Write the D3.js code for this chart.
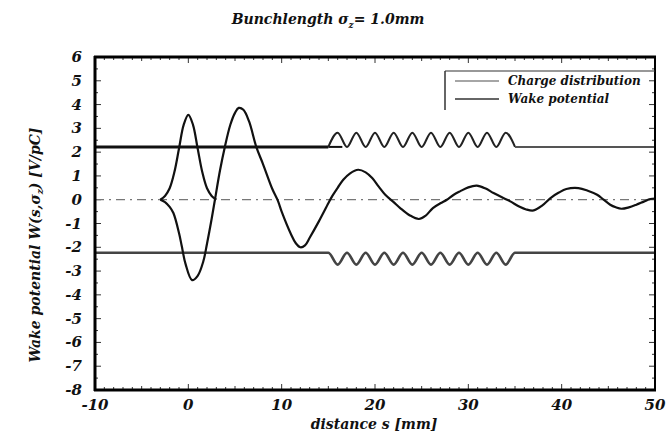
<!DOCTYPE html>
<html><head><meta charset="utf-8">
<script src="https://cdn.jsdelivr.net/npm/d3@7"></script>
<style>
body{margin:0;background:#fff;}
text{font-family:"DejaVu Serif","Liberation Serif",serif;font-weight:bold;font-style:italic;fill:#111;}
</style></head>
<body><svg id="c" width="671" height="437"></svg>
<script>
// ---- data ----
const xTicks = [-10, 0, 10, 20, 30, 40, 50];
const yTicks = [-8, -7, -6, -5, -4, -3, -2, -1, 0, 1, 2, 3, 4, 5, 6];
const chargeS = [-3, -2.5, -2, -1.5, -1, -0.5, 0, 0.5, 1, 1.5, 2, 2.5, 3];
const chargeW = [0, 0.16, 0.48, 1.15, 2.15, 3.15, 3.57, 3.15, 2.15, 1.15, 0.48, 0.16, 0];
const wakeS = [-3, -2.5, -2, -1.6, -1, -0.7, -0.3, 0.4, 1, 1.6, 2, 2.5, 2.85, 3.4, 3.9, 4.5, 5, 5.4, 5.9, 6.5, 7.3, 8, 9, 9.6, 10, 11, 11.5, 12, 12.5, 13, 14, 15, 15.4, 16, 16.6, 17.3, 18.2, 19, 19.7, 20.4, 21.1, 22, 22.7, 23.7, 24.7, 25.4, 26.2, 27, 27.7, 28.4, 29.1, 30, 30.9, 31.8, 32.7, 33.6, 34.5, 35.5, 36.2, 37, 37.9, 38.8, 39.7, 40.5, 41.8, 42.8, 43.8, 44.5, 45.2, 45.8, 46.4, 47.2, 48, 48.8, 49.5, 50];
const wakeW = [0, -0.1, -0.3, -0.56, -1.4, -1.96, -2.7, -3.38, -3.2, -2.6, -1.85, -0.8, 0.0, 1.25, 2.2, 3.15, 3.65, 3.86, 3.78, 3.3, 2.2, 1.5, 0.45, -0.05, -0.5, -1.45, -1.82, -2.0, -1.92, -1.6, -0.9, -0.15, 0.14, 0.5, 0.84, 1.1, 1.26, 1.15, 0.91, 0.55, 0.21, -0.1, -0.35, -0.65, -0.81, -0.68, -0.35, -0.15, 0, 0.2, 0.35, 0.52, 0.59, 0.48, 0.28, 0.1, -0.07, -0.3, -0.41, -0.45, -0.25, 0.07, 0.3, 0.45, 0.49, 0.38, 0.21, 0, -0.21, -0.32, -0.38, -0.32, -0.21, -0.08, 0.03, 0.05];
// beam-pipe wall profile (corrugated section)
const wallTopS = [-10, 15, 16, 17, 18, 19, 20, 21, 22, 23, 24, 25, 26, 27, 28, 29, 30, 31, 32, 33, 34, 35, 50];
const wallTopW = [2.22, 2.22, 2.82, 2.22, 2.82, 2.22, 2.82, 2.22, 2.82, 2.22, 2.82, 2.22, 2.82, 2.22, 2.82, 2.22, 2.82, 2.22, 2.82, 2.22, 2.82, 2.22, 2.22];
const wallBotS = [-10, 15, 16, 17, 18, 19, 20, 21, 22, 23, 24, 25, 26, 27, 28, 29, 30, 31, 32, 33, 34, 35, 50];
const wallBotW = [-2.23, -2.23, -2.73, -2.23, -2.73, -2.23, -2.73, -2.23, -2.73, -2.23, -2.73, -2.23, -2.73, -2.23, -2.73, -2.23, -2.73, -2.23, -2.73, -2.23, -2.73, -2.23, -2.23];
const legendLabels = ["Charge distribution", "Wake potential"];

// ---- drawing ----
const svg = d3.select("#c");
const x = d3.scaleLinear().domain([-10, 50]).range([95, 655]);
const y = d3.scaleLinear().domain([-8, 6]).range([390, 57]);
const zip = (a, b) => a.map((v, i) => [v, b[i]]);

// title
const t = svg.append("text").attr("x", 328).attr("y", 24).attr("text-anchor", "middle").style("font-size", "14px");
t.append("tspan").text("Bunchlength σ");
t.append("tspan").attr("dy", 4).style("font-size", "9px").text("z");
t.append("tspan").attr("dy", -4).text("= 1.0mm");

// minor ticks
const g = svg.append("g");
d3.range(-10, 50.01, 1).forEach(v => {
  const L = v % 10 === 0 ? 6 : (v % 5 === 0 ? 4 : 3);
  g.append("line").attr("x1", x(v)).attr("x2", x(v)).attr("y1", y(-8)).attr("y2", y(-8) - L).attr("stroke", "#333").attr("stroke-width", 1);
  g.append("line").attr("x1", x(v)).attr("x2", x(v)).attr("y1", y(6)).attr("y2", y(6) + L).attr("stroke", "#333").attr("stroke-width", 1);
});
d3.range(-8, 6.01, 0.5).forEach(v => {
  const L = Number.isInteger(v) ? 6 : 3;
  g.append("line").attr("x1", x(-10)).attr("x2", x(-10) + L).attr("y1", y(v)).attr("y2", y(v)).attr("stroke", "#333").attr("stroke-width", 1);
  g.append("line").attr("x1", x(50)).attr("x2", x(50) - L).attr("y1", y(v)).attr("y2", y(v)).attr("stroke", "#333").attr("stroke-width", 1);
});

// zero line dash-dot
svg.append("line").attr("x1", x(-10)).attr("x2", x(50)).attr("y1", y(0)).attr("y2", y(0))
  .attr("stroke", "#777").attr("stroke-width", 1.2).attr("stroke-dasharray", "9,5,2,5");

// walls
const wl = d3.line().x(d => x(d[0])).y(d => y(d[1])).curve(d3.curveMonotoneX);
const wallTop = zip(wallTopS, wallTopW);
svg.append("path").attr("d", wl(wallTop.filter(d => d[0] <= 15))).attr("fill", "none").attr("stroke", "#111").attr("stroke-width", 3);
svg.append("line").attr("x1", x(15)).attr("x2", x(16.5)).attr("y1", y(wallTopW[0])).attr("y2", y(wallTopW[0])).attr("stroke", "#111").attr("stroke-width", 2);
svg.append("path").attr("d", wl(wallTop.filter(d => d[0] >= 15 && d[0] <= 35))).attr("fill", "none").attr("stroke", "#222").attr("stroke-width", 2);
svg.append("path").attr("d", wl(wallTop.filter(d => d[0] >= 35))).attr("fill", "none").attr("stroke", "#555").attr("stroke-width", 2);
svg.append("path").attr("d", wl(zip(wallBotS, wallBotW))).attr("fill", "none").attr("stroke", "#444").attr("stroke-width", 2.6);

// charge and wake curves
const cl = d3.line().x(d => x(d[0])).y(d => y(d[1])).curve(d3.curveCatmullRom.alpha(0.5));
svg.append("path").attr("d", cl(zip(chargeS, chargeW))).attr("fill", "none").attr("stroke", "#111").attr("stroke-width", 2.2);
svg.append("path").attr("d", cl(zip(wakeS, wakeW))).attr("fill", "none").attr("stroke", "#111").attr("stroke-width", 2.2);

// frame
svg.append("line").attr("x1", x(-10)).attr("x2", x(-10)).attr("y1", y(6) - 1).attr("y2", y(-8) + 1).attr("stroke", "#000").attr("stroke-width", 3);
svg.append("line").attr("x1", x(-10) - 1).attr("x2", x(50) + 1).attr("y1", y(-8)).attr("y2", y(-8)).attr("stroke", "#000").attr("stroke-width", 3);
svg.append("line").attr("x1", x(-10) - 1).attr("x2", x(50) + 1).attr("y1", y(6)).attr("y2", y(6)).attr("stroke", "#000").attr("stroke-width", 3);
svg.append("line").attr("x1", x(50)).attr("x2", x(50)).attr("y1", y(6)).attr("y2", y(-8)).attr("stroke", "#000").attr("stroke-width", 2);

// axes labels
svg.append("g").selectAll("text").data(xTicks).join("text")
  .attr("x", d => x(d)).attr("y", 410).attr("text-anchor", "middle").style("font-size", "15px")
  .text(d => d);
svg.append("g").selectAll("text").data(yTicks).join("text")
  .attr("x", 82).attr("y", d => y(d) + 5).attr("text-anchor", "end").style("font-size", "15px")
  .text(d => d);
svg.append("text").attr("x", 374).attr("y", 429).attr("text-anchor", "middle").style("font-size", "14px").text("distance s [mm]");
const yl = svg.append("text").attr("transform", "translate(40,245) rotate(-90)").attr("text-anchor", "middle").style("font-size", "14px");
yl.append("tspan").text("Wake potential W(s,σ");
yl.append("tspan").attr("dy", 3).style("font-size", "9px").text("z");
yl.append("tspan").attr("dy", -3).text(") [V/pC]");

// legend
const lg = svg.append("g");
lg.append("line").attr("x1", 445).attr("x2", 655).attr("y1", 71).attr("y2", 71).attr("stroke", "#333").attr("stroke-width", 1.2);
lg.append("line").attr("x1", 445).attr("x2", 445).attr("y1", 71).attr("y2", 110).attr("stroke", "#333").attr("stroke-width", 1.5);
legendLabels.forEach((lab, i) => {
  const yy = 81 + i * 18;
  lg.append("line").attr("x1", 455).attr("x2", 499).attr("y1", yy).attr("y2", yy)
    .attr("stroke", i === 0 ? "#888" : "#333").attr("stroke-width", i === 0 ? 1.5 : 1.3);
  lg.append("text").attr("x", 508).attr("y", yy + 4).style("font-size", "12px").text(lab);
});
</script></body></html>
